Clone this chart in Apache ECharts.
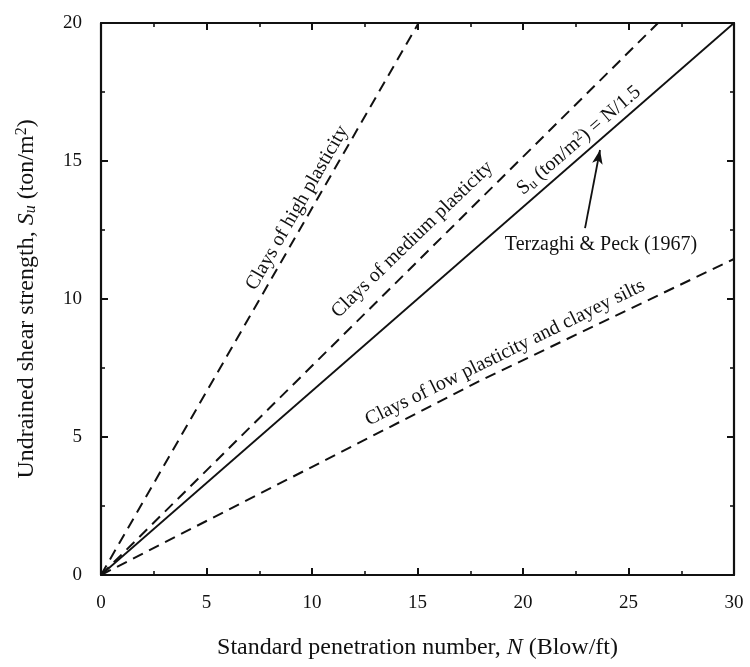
<!DOCTYPE html>
<html>
<head>
<meta charset="utf-8">
<script src="https://cdn.jsdelivr.net/npm/echarts@6/dist/echarts.min.js"></script>
<style>
html,body{margin:0;padding:0;background:#fff;}
#c{width:750px;height:667px;}
</style>
</head>
<body>
<div id="c"></div>
<script>
// Data
var xTicks = [0, 5, 10, 15, 20, 25, 30];
var yTicks = [0, 5, 10, 15, 20];
var highPlasticity = [[0, 0], [15.05, 20]];
var mediumPlasticity = [[0, 0], [26.4, 20]];
var terzaghiPeck = [[0, 0], [30, 20]];
var lowPlasticity = [[0, 0], [18, 7.05], [30, 11.45]];
var arrowStart = [22.94, 12.57];
var arrowEnd = [23.65, 15.4];

var FONT = 'Liberation Serif';
var ink = '#111';
var AF = 20; // annotation font size
var TF = 24; // axis title font size

var annotations = [
  { text: 'Clays of high plasticity', at: [9.3, 13.3], angle: 60 },
  { text: 'Clays of medium plasticity', at: [14.75, 12.15], angle: 44 },
  { text: '{r|S}{sub|u}{r| (ton/m}{sup|2}{r|) = N/1.5}', at: [22.65, 15.75], angle: 40.6 },
  { text: 'Terzaghi & Peck (1967)', at: [23.7, 11.96], angle: 0 },
  { text: 'Clays of low plasticity and clayey silts', at: [19.15, 8.05], angle: 26.2 }
];

var noBorder = { textBorderWidth: 0, textBorderColor: 'transparent', textShadowBlur: 0, opacity: 1 };
function st(o) { return Object.assign({ fontFamily: FONT, color: ink }, noBorder, o); }

var richStyles = {
  r: st({ fontSize: AF }),
  sub: st({ fontSize: 14, verticalAlign: 'bottom', padding: [8, 0, 0, 0] }),
  sup: st({ fontSize: 14, verticalAlign: 'top', padding: [0, 0, 8, 0] })
};

function axisCommon(showLabel) {
  return {
    type: 'value',
    axisLine: { show: true, onZero: false, lineStyle: { color: ink, width: 2.2 } },
    axisTick: { show: true, inside: true, length: 7, lineStyle: { color: ink, width: 2 } },
    minorTick: { show: true, splitNumber: 2, length: 4, lineStyle: { color: ink, width: 1.6 } },
    splitLine: { show: false },
    minorSplitLine: { show: false },
    axisLabel: { show: showLabel, margin: 19, fontFamily: FONT, fontSize: 19, color: ink }
  };
}

var xBottom = Object.assign(axisCommon(true), {
  position: 'bottom', min: xTicks[0], max: xTicks[xTicks.length - 1], interval: xTicks[1] - xTicks[0],
  name: '{r|Standard penetration number, }{i|N}{r| (Blow/ft)}',
  nameLocation: 'middle', nameGap: 61,
  nameTextStyle: { fontFamily: FONT, fontSize: TF, color: ink, rich: {
    r: st({ fontSize: TF }),
    i: st({ fontSize: TF, fontStyle: 'italic' })
  } }
});
var xTop = Object.assign(axisCommon(false), {
  position: 'top', min: xTicks[0], max: xTicks[xTicks.length - 1], interval: xTicks[1] - xTicks[0]
});
var yLeft = Object.assign(axisCommon(true), {
  position: 'left', min: yTicks[0], max: yTicks[yTicks.length - 1], interval: yTicks[1] - yTicks[0],
  name: '{r|Undrained shear strength, }{i|S}{isub|u}{r| (ton/m}{sup|2}{r|)}',
  nameLocation: 'middle', nameGap: 62,
  nameTextStyle: { fontFamily: FONT, fontSize: TF, color: ink, rich: {
    r: st({ fontSize: TF }),
    i: st({ fontSize: TF, fontStyle: 'italic' }),
    isub: st({ fontSize: 16, fontStyle: 'italic', verticalAlign: 'bottom', padding: [9, 0, 0, 0] }),
    sup: st({ fontSize: 16, verticalAlign: 'top', padding: [0, 0, 9, 0] })
  } }
});
var yRight = Object.assign(axisCommon(false), {
  position: 'right', min: yTicks[0], max: yTicks[yTicks.length - 1], interval: yTicks[1] - yTicks[0]
});

function dashed(data) {
  return {
    type: 'line', data: data, xAxisIndex: 0, yAxisIndex: 0, symbol: 'none', silent: true,
    lineStyle: { color: ink, width: 2, type: [11, 7] }, z: 3
  };
}

var chart = echarts.init(document.getElementById('c'), null, { renderer: 'canvas' });
chart.setOption({
  backgroundColor: '#fff',
  animation: false,
  grid: { left: 101, right: 16, top: 23, bottom: 92, containLabel: false },
  xAxis: [xBottom, xTop],
  yAxis: [yLeft, yRight],
  series: [
    dashed(highPlasticity),
    dashed(mediumPlasticity),
    {
      type: 'line', data: terzaghiPeck, symbol: 'none', silent: true,
      lineStyle: { color: ink, width: 1.8 }, z: 3,
      markLine: {
        silent: true, animation: false,
        symbol: ['none', 'arrow'], symbolSize: [8, 14],
        lineStyle: { color: ink, width: 1.8, type: 'solid' },
        label: { show: false },
        data: [[{ coord: arrowStart }, { coord: arrowEnd }]]
      }
    },
    dashed(lowPlasticity),
    {
      type: 'scatter', symbolSize: 0, silent: true, z: 5,
      itemStyle: { color: ink, opacity: 1 },
      data: annotations.map(function (a) {
        return {
          value: a.at,
          itemStyle: { opacity: 1 },
          label: Object.assign({
            show: true, position: [0, 0], align: 'center', verticalAlign: 'middle', rotate: a.angle,
            formatter: a.text.indexOf('{') === 0 ? a.text : '{r|' + a.text + '}',
            rich: richStyles, fontFamily: FONT, fontSize: AF, color: ink
          }, noBorder)
        };
      })
    }
  ]
});
</script>
</body>
</html>
